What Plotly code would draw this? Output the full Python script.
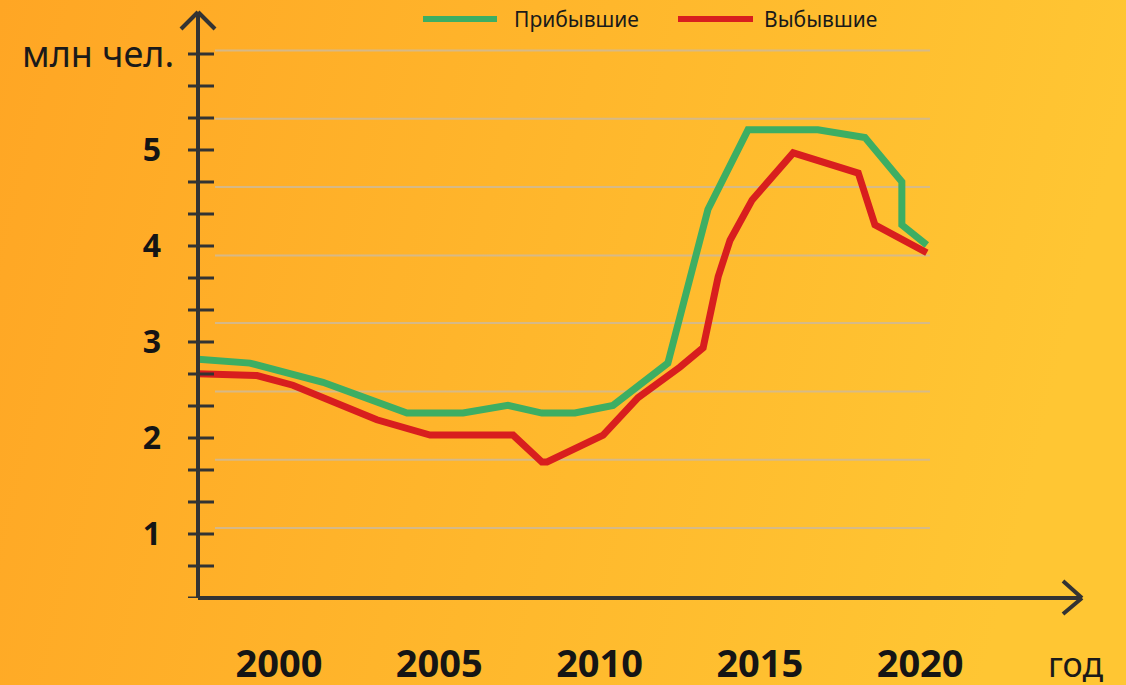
import base64
import plotly.graph_objects as go

# ---------------- data ----------------
arrived_years = [1997.47, 1999.09, 2001.37, 2003.99, 2005.74, 2007.14, 2008.20, 2009.23,
                 2010.42, 2012.13, 2013.38, 2014.63, 2016.81, 2018.28, 2019.43, 2019.43, 2020.21]
arrived_vals = [2.82, 2.78, 2.58, 2.26, 2.26, 2.34, 2.26, 2.26,
                2.34, 2.78, 4.38, 5.21, 5.21, 5.13, 4.67, 4.22, 4.01]

left_years = [1997.47, 1999.31, 2000.43, 2003.05, 2004.71, 2007.30, 2008.20, 2008.36,
              2010.11, 2011.20, 2012.51, 2013.23, 2013.70, 2014.07, 2014.76, 2016.04,
              2018.07, 2018.59, 2020.21]
left_vals = [2.67, 2.65, 2.55, 2.19, 2.03, 2.03, 1.75, 1.75,
             2.03, 2.42, 2.74, 2.94, 3.68, 4.06, 4.48, 4.97,
             4.76, 4.22, 3.93]

x_ticks = [2000, 2005, 2010, 2015, 2020]
y_ticks = [1, 2, 3, 4, 5]
y_minor = [k / 3 for k in range(1, 19)]
grid_vals = [1.0625, 1.774, 2.485, 3.198, 3.902, 4.615, 5.326, 6.0375]

series_names = ["Прибывшие", "Выбывшие"]
GREEN = "#3DAE63"
RED = "#D81E1E"
AXIS = "#333333"

# ---------------- geometry ----------------
W, H = 1126, 685
L, R, T, B = 198, 44, 12, 87
PW, PH = W - L - R, H - T - B


def px(xp):
    return (xp - L) / PW


def py(yp):
    return (H - B - yp) / PH


# background gradient
svg = ('<svg xmlns="http://www.w3.org/2000/svg" width="1126" height="685">'
       '<defs><linearGradient id="g" x1="0" y1="0" x2="1" y2="0.15">'
       '<stop offset="0" stop-color="#FFA624"/><stop offset="1" stop-color="#FFC633"/>'
       '</linearGradient></defs><rect width="1126" height="685" fill="url(#g)"/></svg>')
bg_uri = "data:image/svg+xml;base64," + base64.b64encode(svg.encode()).decode()

fig = go.Figure()
fig.add_trace(go.Scatter(x=arrived_years, y=arrived_vals, mode="lines", name=series_names[0],
                         line=dict(color=GREEN, width=7), showlegend=False, hoverinfo="skip"))
fig.add_trace(go.Scatter(x=left_years, y=left_vals, mode="lines", name=series_names[1],
                         line=dict(color=RED, width=7), showlegend=False, hoverinfo="skip"))

shapes = []
# gridlines
for g in grid_vals:
    shapes.append(dict(type="line", xref="paper", yref="y", x0=px(215), x1=px(930), y0=g, y1=g,
                       line=dict(color="rgba(210,185,145,0.9)", width=2), layer="below"))
# axis lines
shapes.append(dict(type="line", xref="paper", yref="paper", x0=0, x1=1, y0=0, y1=0,
                   line=dict(color=AXIS, width=4)))
shapes.append(dict(type="line", xref="paper", yref="paper", x0=0, x1=0, y0=0, y1=1,
                   line=dict(color=AXIS, width=4)))
# arrowheads
for (ax, ay) in [(1063, 581), (1063, 614)]:
    shapes.append(dict(type="line", xref="paper", yref="paper", x0=px(ax), y0=py(ay),
                       x1=px(1082), y1=py(598), line=dict(color=AXIS, width=4)))
for (ax, ay) in [(181, 29), (215, 29)]:
    shapes.append(dict(type="line", xref="paper", yref="paper", x0=px(ax), y0=py(ay),
                       x1=px(198), y1=py(12), line=dict(color=AXIS, width=4)))
# y ticks crossing the axis
for v in y_minor:
    shapes.append(dict(type="line", xref="paper", yref="y", x0=px(188), x1=px(214), y0=v, y1=v,
                       line=dict(color=AXIS, width=3)))
# custom legend
shapes.append(dict(type="line", xref="paper", yref="paper", x0=px(423), x1=px(497),
                   y0=py(19), y1=py(19), line=dict(color=GREEN, width=6)))
shapes.append(dict(type="line", xref="paper", yref="paper", x0=px(678), x1=px(753),
                   y0=py(19), y1=py(19), line=dict(color=RED, width=6)))

annotations = [
    dict(text=series_names[0], xref="paper", yref="paper", x=px(512), y=py(19), xanchor="left",
         yanchor="middle", showarrow=False, font=dict(family="Noto Sans", size=21, color="#1a1a1a")),
    dict(text=series_names[1], xref="paper", yref="paper", x=px(762), y=py(19), xanchor="left",
         yanchor="middle", showarrow=False, font=dict(family="Noto Sans", size=21, color="#1a1a1a")),
    dict(text="млн чел.", xref="paper", yref="paper", x=px(98), y=py(53), xanchor="center",
         yanchor="middle", showarrow=False, font=dict(family="Noto Sans", size=36, color="#1a1a1a")),
    dict(text="год", xref="paper", yref="paper", x=px(1075), y=py(664), xanchor="center",
         yanchor="middle", showarrow=False, font=dict(family="Noto Sans", size=34, color="#1a1a1a")),
]

fig.update_layout(
    width=W, height=H,
    margin=dict(l=L, r=R, t=T, b=B, pad=0, autoexpand=False),
    paper_bgcolor="#FFB52C",
    plot_bgcolor="rgba(0,0,0,0)",
    images=[dict(source=bg_uri, xref="paper", yref="paper", x=px(0), y=py(0),
                 sizex=W / PW, sizey=H / PH, sizing="stretch", layer="below",
                 xanchor="left", yanchor="top")],
    shapes=shapes,
    annotations=annotations,
    xaxis=dict(range=[1997.470, 2025.051], showgrid=False, zeroline=False, showline=False,
               automargin=False,
               tickvals=x_ticks, ticktext=[str(v) for v in x_ticks], ticks="",
               ticklabelstandoff=40,
               tickfont=dict(family="Noto Sans", size=38, color="#151515", weight="bold")),
    yaxis=dict(range=[1 / 3, 6.4375], showgrid=False, zeroline=False, showline=False,
               automargin=False,
               tickvals=y_ticks, ticktext=[str(v) for v in y_ticks], ticks="",
               ticklabelstandoff=36,
               tickfont=dict(family="Noto Sans", size=32, color="#151515", weight="bold")),
)

fig.write_html("out.html", config={"displayModeBar": False},
               post_script="document.body.style.margin='0';")
